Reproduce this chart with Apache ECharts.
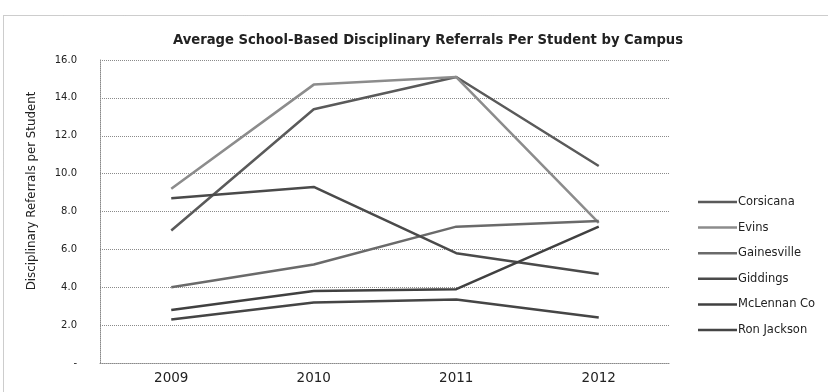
<!DOCTYPE html>
<html>
<head>
<meta charset="utf-8">
<script src="https://cdn.jsdelivr.net/npm/echarts@6/dist/echarts.min.js"></script>
<style>
  html, body { margin: 0; padding: 0; background: #fff; }
  #chart { width: 828px; height: 392px; }
</style>
</head>
<body>
<div id="chart"></div>
<script>
// School years on the category axis
const years = ['2009', '2010', '2011', '2012'];

// Average referrals per student, one list per campus
const corsicana   = [7.0, 13.4, 15.1, 10.4];
const evins       = [9.2, 14.7, 15.1, 7.4];
const gainesville = [4.0, 5.2, 7.2, 7.5];
const giddings    = [8.7, 9.3, 5.8, 4.7];
const mclennan    = [2.8, 3.8, 3.9, 7.2];
const ronJackson  = [2.3, 3.2, 3.35, 2.4];

const campusNames  = ['Corsicana', 'Evins', 'Gainesville', 'Giddings', 'McLennan Co', 'Ron Jackson'];
const campusValues = [corsicana, evins, gainesville, giddings, mclennan, ronJackson];
const campusColors = ['#5a5a5a', '#8c8c8c', '#6a6a6a', '#4a4a4a', '#404040', '#454545'];

const FONT = '"DejaVu Sans", Verdana, sans-serif';
const TEXT = '#222';
const GRID = '#8a8a8a';

const chart = echarts.init(document.getElementById('chart'), null, { renderer: 'canvas' });

chart.setOption({
  animation: false,
  backgroundColor: '#fff',
  textStyle: { fontFamily: FONT },
  title: {
    text: 'Average School-Based Disciplinary Referrals Per Student by Campus',
    left: 423,
    textAlign: 'center',
    top: 29,
    textStyle: { fontSize: 13.2, fontWeight: 'bold', color: TEXT, fontFamily: FONT }
  },
  graphic: [
    {
      // dotted chart-area frame
      type: 'rect',
      shape: { x: 3.5, y: 15.5, width: 830, height: 390 },
      style: { fill: 'none', stroke: '#9a9a9a', lineWidth: 1, lineDash: [1, 1] },
      silent: true
    },
    {
      // vertical axis title
      type: 'text',
      x: 32,
      y: 191,
      rotation: Math.PI / 2,
      style: {
        text: 'Disciplinary Referrals per Student',
        fill: TEXT,
        font: '11.8px "DejaVu Sans", Verdana, sans-serif',
        textAlign: 'center',
        textVerticalAlign: 'middle'
      },
      silent: true
    }
  ],
  legend: {
    orient: 'vertical',
    left: 698,
    top: 195,
    padding: 0,
    icon: 'rect',
    itemWidth: 39,
    itemHeight: 2.5,
    itemGap: 11.6,
    data: campusNames,
    textStyle: { fontSize: 11.5, lineHeight: 14, color: TEXT, fontFamily: FONT, padding: [0, 0, 0, -4] }
  },
  grid: { left: 100, right: 158, top: 60, bottom: 29, containLabel: false },
  xAxis: {
    type: 'category',
    data: years,
    boundaryGap: true,
    axisLine: { show: true, lineStyle: { color: GRID, type: [1, 1], width: 1 } },
    axisTick: { show: false },
    axisLabel: { fontSize: 13.5, color: TEXT, margin: 8, fontFamily: FONT }
  },
  yAxis: {
    type: 'value',
    min: 0,
    max: 16,
    interval: 2,
    axisLine: { show: true, lineStyle: { color: GRID, type: [1, 1], width: 1 } },
    axisTick: { show: false },
    axisLabel: {
      fontSize: 10, color: TEXT, margin: 23, fontFamily: FONT,
      formatter: v => (v === 0 ? '-' : v.toFixed(1))
    },
    splitLine: { show: true, lineStyle: { color: GRID, type: [1, 1], width: 1 } }
  },
  series: campusNames.map((name, i) => ({
    name,
    type: 'line',
    data: campusValues[i],
    symbol: 'none',
    color: campusColors[i],
    lineStyle: { width: 2.5, color: campusColors[i] }
  }))
});
</script>
</body>
</html>
